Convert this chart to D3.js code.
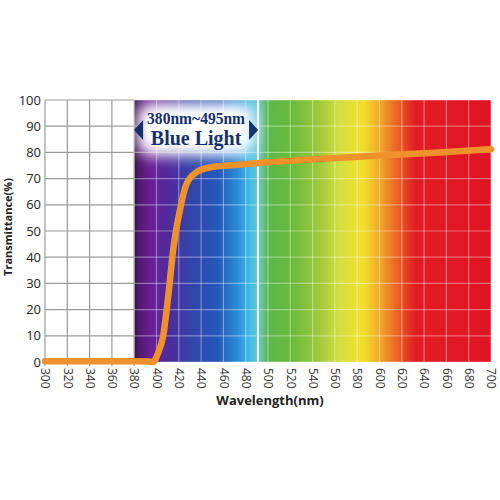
<!DOCTYPE html>
<html>
<head>
<meta charset="utf-8">
<script src="https://cdn.jsdelivr.net/npm/d3@7"></script>
<style>
  body{margin:0;background:#fff;}
  svg{display:block;}
  .tick text{font-family:"Open Sans",sans-serif;}
</style>
</head>
<body>
<svg id="chart" width="500" height="500"></svg>
<script>
// transmittance curve
var waveNm   = [300, 340, 380, 392, 397, 401, 406, 411, 415, 421, 427, 436, 448, 470, 502, 550, 600, 650, 700]
var transPct = [0.3, 0.3, 0.3, 0.2, 0.0, 3, 10, 27, 43, 58, 68, 72.5, 74.3, 75.2, 76.3, 77.6, 78.8, 79.9, 81.2]
// spectrum background stops
var specNm    = [380, 384, 395, 410, 430, 455, 472, 484, 492, 500, 520, 545, 565, 585, 600, 618, 632, 700]
var specColor = ['#3a1848','#4e1a6c','#6a1f96','#4f2a9c','#3343a8','#2458bb','#2a8ad6','#3ebde8','#6cc6c4','#5cb84a','#68ba3c','#9cc83c','#d4e03e','#f2e02c','#f2a82a','#ea5a24','#e21c24','#e01424']
var xTicks = d3.range(300, 701, 20)
var yTicks = d3.range(0, 101, 10)
var blueEdge = 491

var svg = d3.select('#chart')
var m = {l:45, r:9, t:100, b:138}
var W = 500 - m.l - m.r, H = 500 - m.t - m.b
var x = d3.scaleLinear().domain([300, 700]).range([0, W])
var y = d3.scaleLinear().domain([0, 100]).range([H, 0])

var defs = svg.append('defs')
var grad = defs.append('linearGradient').attr('id', 'spec')
    .attr('gradientUnits', 'userSpaceOnUse')
    .attr('x1', x(380)).attr('x2', x(700)).attr('y1', 0).attr('y2', 0)
specNm.forEach(function(d, i){
    grad.append('stop').attr('offset', (d - 380) / 320).attr('stop-color', specColor[i])
})
defs.append('filter').attr('id', 'glow').attr('x', '-40%').attr('y', '-60%').attr('width', '180%').attr('height', '220%')
    .append('feGaussianBlur').attr('stdDeviation', 8)
defs.append('clipPath').attr('id', 'plotclip').append('rect')
    .attr('x', 0).attr('y', 0).attr('width', W).attr('height', H)

var g = svg.append('g').attr('transform', 'translate(' + m.l + ',' + m.t + ')')

// colored region
g.append('rect').attr('x', x(380)).attr('y', 0)
    .attr('width', x(700) - x(380)).attr('height', H)
    .attr('fill', 'url(#spec)')

// grid: gray on white part, light on spectrum
var grid = g.append('g')
xTicks.forEach(function(t){
    var onSpec = t > 380
    grid.append('line').attr('x1', x(t)).attr('x2', x(t)).attr('y1', 0).attr('y2', H + 4)
        .attr('stroke', onSpec ? 'rgba(255,255,255,0.38)' : '#9a9a9a').attr('stroke-width', 1.2)
})
yTicks.forEach(function(t){
    grid.append('line').attr('x1', 0).attr('x2', x(380)).attr('y1', y(t)).attr('y2', y(t))
        .attr('stroke', '#9a9a9a').attr('stroke-width', 1.2)
    grid.append('line').attr('x1', x(380)).attr('x2', x(700)).attr('y1', y(t)).attr('y2', y(t))
        .attr('stroke', 'rgba(255,255,255,0.38)').attr('stroke-width', 1.2)
})
// white marker at end of blue band
g.append('line').attr('x1', x(blueEdge)).attr('x2', x(blueEdge)).attr('y1', 0).attr('y2', H)
    .attr('stroke', '#fff').attr('stroke-width', 2)

// axes (labels only)
var yAxis = g.append('g').call(d3.axisLeft(y).tickValues(yTicks).tickSize(0).tickPadding(4))
yAxis.select('.domain').remove()
yAxis.selectAll('text').attr('font-size', 13).attr('fill', '#222')

var xAxis = g.append('g').attr('transform', 'translate(0,' + H + ')')
    .call(d3.axisBottom(x).tickValues(xTicks).tickSize(0))
xAxis.select('.domain').remove()
xAxis.selectAll('text').attr('font-size', 12).attr('fill', '#333')
    .attr('transform', 'rotate(90)').attr('text-anchor', 'start')
    .attr('x', 6).attr('y', 0).attr('dy', '0.35em')

// "Blue Light" badge (glow sits under the curve)
var bx = (x(380) + x(blueEdge)) / 2
var badge = g.append('g').attr('transform', 'translate(' + bx + ',30)')
badge.append('g').attr('clip-path', 'url(#plotclip)').attr('transform', null)
badge.append('rect').attr('x', -58).attr('y', -26).attr('width', 116).attr('height', 50)
    .attr('rx', 12).attr('fill', '#fff').attr('filter', 'url(#glow)')
badge.append('rect').attr('x', -50).attr('y', -19).attr('width', 100).attr('height', 38)
    .attr('rx', 9).attr('fill', '#fff').attr('opacity', 0.85).attr('filter', 'url(#glow)')

// curve
var line = d3.line().x(function(d){ return x(d[0]) }).y(function(d){ return y(d[1]) })
    .curve(d3.curveMonotoneX)
g.append('path').datum(waveNm.map(function(d, i){ return [d, transPct[i]] }))
    .attr('d', line).attr('fill', 'none')
    .attr('stroke', '#f0922c').attr('stroke-width', 6.5)
    .attr('stroke-linecap', 'round').attr('stroke-linejoin', 'round')

var lab = g.append('g').attr('transform', 'translate(' + bx + ',30)')
lab.append('path').attr('d', 'M-62,0 L-53,-10 L-53,10 Z').attr('fill', '#16306e')
lab.append('path').attr('d', 'M62,0 L53,-10 L53,10 Z').attr('fill', '#16306e')
lab.append('text').attr('y', -6).attr('text-anchor', 'middle')
    .attr('font-family', '"Liberation Serif",serif').attr('font-weight', 'bold')
    .attr('font-size', 17).attr('fill', '#16306e')
    .attr('textLength', 98).attr('lengthAdjust', 'spacingAndGlyphs')
    .text('380nm~495nm')
lab.append('text').attr('y', 15).attr('text-anchor', 'middle')
    .attr('font-family', '"Liberation Serif",serif').attr('font-weight', 'bold')
    .attr('font-size', 20).attr('fill', '#16306e')
    .text('Blue Light')

// axis titles
svg.append('text').attr('transform', 'translate(12,' + (m.t + H / 2 - 4) + ') rotate(-90)')
    .attr('text-anchor', 'middle').attr('font-family', '"Open Sans",sans-serif')
    .attr('font-weight', 'bold').attr('font-size', 11).attr('fill', '#222')
    .text('Transmittance(%)')
svg.append('text').attr('x', 270).attr('y', 405)
    .attr('text-anchor', 'middle').attr('font-family', '"Open Sans",sans-serif')
    .attr('font-weight', 'bold').attr('font-size', 13).attr('fill', '#222')
    .text('Wavelength(nm)')
</script>
</body>
</html>
